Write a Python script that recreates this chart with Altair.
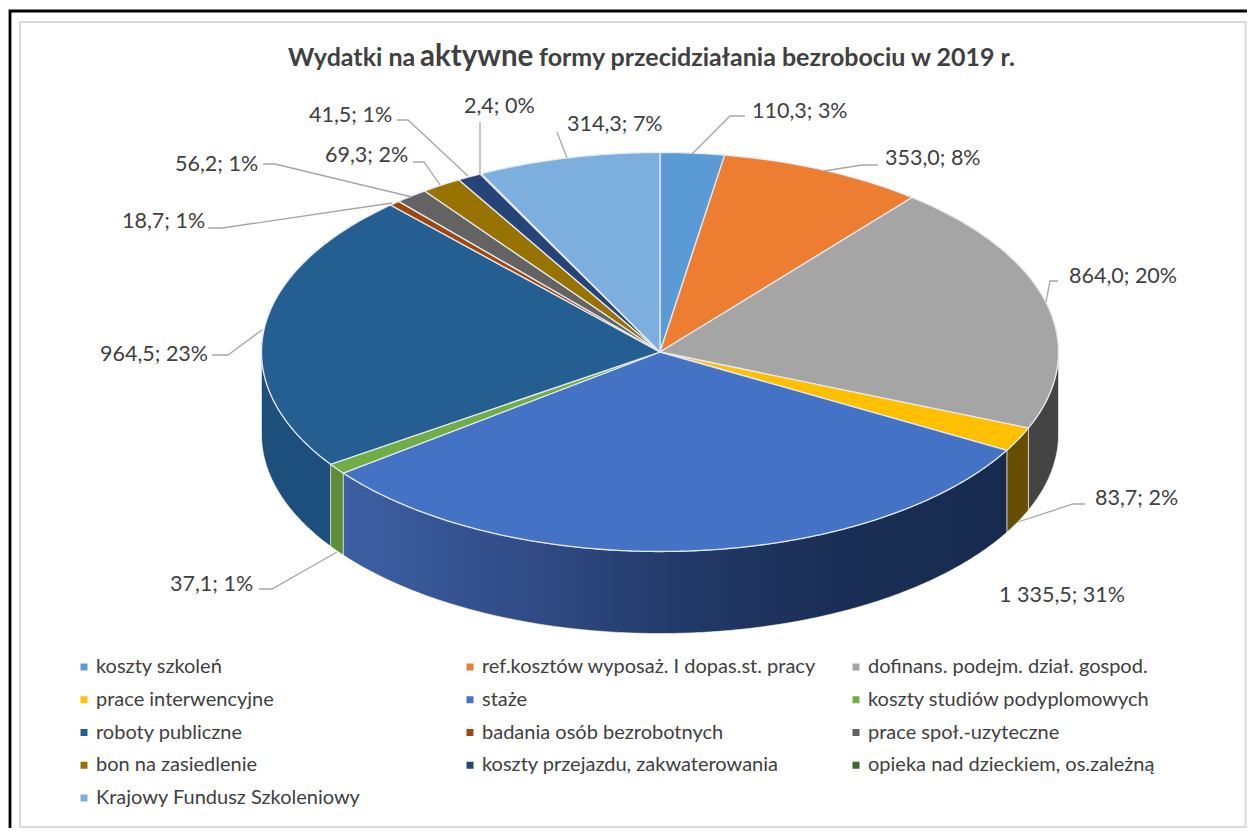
import altair as alt
import numpy as np
import pandas as pd

categories = ["koszty szkoleń", "ref.kosztów wyposaż. I dopas.st. pracy", "dofinans. podejm. dział. gospod.",
              "prace interwencyjne", "staże", "koszty studiów podyplomowych",
              "roboty publiczne", "badania osób bezrobotnych", "prace społ.-uzyteczne",
              "bon na zasiedlenie", "koszty przejazdu, zakwaterowania", "opieka nad dzieckiem, os.zależną",
              "Krajowy Fundusz Szkoleniowy"]
values = [110.3, 353.0, 864.0, 83.7, 1335.5, 37.1, 964.5, 18.7, 56.2, 69.3, 41.5, 2.4, 314.3]
value_labels = ["110,3; 3%", "353,0; 8%", "864,0; 20%", "83,7; 2%", "1 335,5; 31%", "37,1; 1%", "964,5; 23%",
                "18,7; 1%", "56,2; 1%", "69,3; 2%", "41,5; 1%", "2,4; 0%", "314,3; 7%"]
colors = ["#5B9BD5", "#ED7D31", "#A5A5A5", "#FFC000", "#4472C4", "#70AD47", "#255E91",
          "#9E480E", "#636363", "#997300", "#264478", "#43682B", "#7CAFDD"]
wall_colors = ["#3B6C99", "#9A5120", "#444444", "#664E00", "#1F3560", "#5E8C37", "#1C4F7C",
               "#6A300A", "#424242", "#664D00", "#192E50", "#2D461D", "#5377A0"]
label_x = [752, 885, 1069, 1095, 999, 170, 100, 122, 175, 325, 309, 464, 567]
label_y = [112, 159, 277, 499, 596, 585, 355, 222, 165, 156, 116, 107, 125]
leaders = [
    [(692, 154), (730, 116), (745, 116)],
    [(824, 171), (862, 165), (878, 165)],
    [(1046, 302), (1050, 281), (1058, 281)],
    [(1018, 522), (1073, 504), (1085, 504)],
    None,
    [(337, 552), (272, 589), (259, 589)],
    [(262, 330), (228, 355), (212, 355)],
    [(392, 203), (222, 228), (208, 228)],
    [(412, 197), (275, 164), (263, 164)],
    [(440, 185), (424, 162), (413, 162)],
    [(468, 176), (408, 120), (397, 120)],
    [(480, 174), (480, 122)],
    [(567, 158), (557, 132)],
]
title_parts = ["Wydatki na", "formy przecidziałania bezrobociu w 2019 r."]
title_x = [288, 539]
title_big = "aktywne"

CX, CY, RX, RY, DEPTH = 660.0, 352.0, 398.5, 199.5, 82.0
TEXT = "#404040"


def rim(t):
    t = np.radians(t)
    return CX + RX * np.sin(t), CY - RY * np.cos(t)


def arc(a, b):
    n = max(2, int(abs(b - a) * 2) + 1)
    return [rim(t) for t in np.linspace(a, b, n)]


def poly(points):
    pts = [[float(x), float(y)] for x, y in points]
    pts.append(pts[0])
    return {"type": "Polygon", "coordinates": [pts]}


def line(points):
    return {"type": "LineString", "coordinates": [[float(x), float(y)] for x, y in points]}


def feat(geom, **props):
    return {"type": "Feature", "geometry": geom, "properties": props}


edges = np.concatenate([[0.0], np.cumsum(values)]) / np.sum(values) * 360.0
tops, walls, grad_walls = [], [], []
for i, cat in enumerate(categories):
    a, b = edges[i], edges[i + 1]
    tops.append(feat(poly([(CX, CY)] + arc(a, b)), cat=cat))
    lo, hi = max(a, 90.0), min(b, 270.0)
    if hi > lo:
        top = arc(lo, hi)
        shape = poly(top + [(x, y + DEPTH) for x, y in reversed(top)])
        if cat == "staże":
            grad_walls.append(feat(shape, cat=cat))
        else:
            walls.append(feat(shape, wall=wall_colors[i]))

PROJ = dict(type="identity", scale=1, translate=[-8, -8])

black = alt.Chart(alt.Data(values=[feat(line([(10, 840), (10, 11), (1260, 11)]))])).mark_geoshape(
    filled=False, stroke="#000000", strokeWidth=2.8).project(**PROJ)
grey = alt.Chart(alt.Data(values=[feat(line([(20, 22), (1245.5, 22), (1245.5, 827), (20, 827), (20, 22)]))])).mark_geoshape(
    filled=False, stroke="#D9D9D9", strokeWidth=2).project(**PROJ)

wall_layer = alt.Chart(alt.Data(values=walls)).mark_geoshape(stroke="#FFFFFF", strokeWidth=1, strokeOpacity=0.55).encode(
    color=alt.Color("properties.wall:N", scale=None)).project(**PROJ)
grad_layer = alt.Chart(alt.Data(values=grad_walls)).mark_geoshape(
    stroke="#FFFFFF", strokeWidth=1, strokeOpacity=0.55,
    fill={"gradient": "linear", "x1": 0, "x2": 1, "y1": 0, "y2": 0,
          "stops": [{"offset": 0, "color": "#3D5FA3"}, {"offset": 0.3, "color": "#2F4A84"},
                    {"offset": 0.5, "color": "#233A69"}, {"offset": 0.75, "color": "#1A2D54"},
                    {"offset": 1, "color": "#182B4F"}]}).project(**PROJ)

top_layer = alt.Chart(alt.Data(values=tops)).mark_geoshape(stroke="#E4E8F0", strokeWidth=1.3).encode(
    color=alt.Color("properties.cat:N", sort=None,
                    scale=alt.Scale(domain=categories, range=colors),
                    legend=alt.Legend(title=None, orient="none", legendX=66, legendY=649, columns=3,
                                      direction="horizontal",
                                      symbolType="square", symbolSize=49, symbolStrokeWidth=0,
                                      labelFont="Lato", labelFontSize=20, labelColor=TEXT, labelLimit=420,
                                      gridAlign="all", columnPadding=29, rowPadding=12.75, labelOffset=2))
).project(**PROJ)

leader_layer = alt.Chart(alt.Data(values=[feat(line(p)) for p in leaders if p])).mark_geoshape(
    filled=False, stroke="#A6A6A6", strokeWidth=1.3).project(**PROJ)

labels = pd.DataFrame({"label": value_labels, "lon": label_x, "lat": label_y})
label_layer = alt.Chart(labels).mark_text(font="Lato", fontSize=21.5, color=TEXT, align="left", baseline="middle").encode(
    longitude="lon:Q", latitude="lat:Q", text="label:N").project(**PROJ)

t1 = pd.DataFrame({"label": title_parts, "lon": title_x, "lat": [58, 58]})
title_layer = alt.Chart(t1).mark_text(font="Lato", fontSize=25, fontWeight="bold", color=TEXT, align="left",
                                      baseline="middle").encode(
    longitude="lon:Q", latitude="lat:Q", text="label:N").project(**PROJ)
t2 = pd.DataFrame({"label": [title_big], "lon": [420], "lat": [57]})
title_big_layer = alt.Chart(t2).mark_text(font="Lato", fontSize=29.5, fontWeight="bold", color=TEXT, align="left",
                                          baseline="middle").encode(
    longitude="lon:Q", latitude="lat:Q", text="label:N").project(**PROJ)

chart = alt.layer(black, grey, wall_layer, grad_layer, top_layer, leader_layer, label_layer, title_layer,
                  title_big_layer).properties(
    width=1239, height=820, padding=0, autosize=alt.AutoSizeParams(type="none"), background="#FFFFFF"
).configure_view(stroke=None)

chart.save("out.html", embed_options={"renderer": "svg", "actions": False})
